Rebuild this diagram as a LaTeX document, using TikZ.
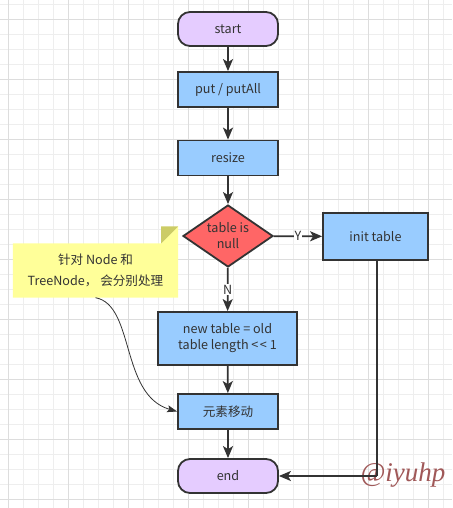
\documentclass[tikz,border=0pt]{standalone}
\usepackage{fontspec}
\setmainfont{Noto Sans CJK SC}
\newfontfamily\wmfont{Liberation Serif}
\usetikzlibrary{shapes.geometric,arrows.meta,backgrounds}
\definecolor{strk}{HTML}{333333}
\definecolor{txt}{HTML}{333333}
\definecolor{bluef}{HTML}{99CCFF}
\definecolor{purf}{HTML}{E5CCFF}
\definecolor{redf}{HTML}{FF6666}
\definecolor{notef}{HTML}{FFFF99}
\definecolor{foldf}{HTML}{CCCC66}
\definecolor{gridminor}{HTML}{EEEEEE}
\definecolor{gridmajor}{HTML}{DDDDDD}
\definecolor{wm}{HTML}{A05858}
\tikzset{
  base/.style={draw=strk, line width=1.8pt, text=txt, font=\fontsize{12.6}{16}\selectfont, align=center, inner sep=0pt},
  procbox/.style={base, rectangle, fill=bluef, minimum width=100pt, minimum height=35pt},
  termbox/.style={base, rectangle, rounded corners=12pt, fill=purf, minimum width=100pt, minimum height=34pt},
  decbox/.style={base, diamond, aspect=1.45, fill=redf, minimum width=90pt, minimum height=62pt},
  flow/.style={draw=strk, line width=1.8pt, -{Stealth[length=12pt,width=10pt,inset=3pt]}},
  lbl/.style={fill=white, text=txt, font=\fontsize{12.6}{14}\selectfont, inner sep=1pt},
}
\begin{document}
\begin{tikzpicture}[x=1pt,y=-1pt]
\useasboundingbox (0,0) rectangle (452,508);
% nodes
\node[termbox] (start) at (228,29) {start};
\node[procbox] (put) at (228,89.5) {put / putAll};
\node[procbox] (resize) at (228,158) {resize};
\node[decbox] (dec) at (228,236) {table is\\null};
\node[procbox, minimum width=105pt, minimum height=47pt] (init) at (375.5,236.5) {init table};
\node[procbox, minimum width=139pt, minimum height=53pt] (newt) at (227.5,338.5) {new table = old\\table length {<}\kern1.5pt{<} 1};
\node[procbox] (move) at (228,411.5) {元素移动};
\node[termbox] (end) at (228,476) {end};
\node[text=txt, font=\fontsize{12.6}{21}\selectfont, align=center, minimum width=165pt, minimum height=54pt, inner sep=0pt] (note) at (95.5,270.5) {\raisebox{-2pt}{}针对 Node 和\\TreeNode， 会分别处理};
\coordinate (corner) at (377,476);
\node[text=wm, font=\wmfont\fontsize{27}{27}\selectfont\itshape, anchor=center] (mark) at (403,475) {@iyuhp};
% background
\begin{pgfonlayer}{background}
  \foreach \x in {8.3,23.3,...,452} {\draw[gridminor, line width=1pt] (\x,0) -- (\x,508);}
  \foreach \y in {4.3,19.3,...,508} {\draw[gridminor, line width=1pt] (0,\y) -- (452,\y);}
  \foreach \x in {8.3,68.3,...,452} {\draw[gridmajor, line width=1pt] (\x,0) -- (\x,508);}
  \foreach \y in {19.3,79.3,...,508} {\draw[gridmajor, line width=1pt] (0,\y) -- (452,\y);}
  \fill[notef] (note.south west) -- (note.north west) -- ([xshift=-17pt]note.north east) -- ([yshift=17pt]note.north east) -- (note.south east) -- cycle;
  \fill[foldf] ([xshift=-17pt]note.north east) -- ([xshift=-17pt,yshift=17pt]note.north east) -- ([yshift=17pt]note.north east) -- cycle;
\end{pgfonlayer}
% edges
\draw[flow] (start) -- (put);
\draw[flow] (put) -- (resize);
\draw[flow] (resize) -- (dec);
\draw[flow] (dec) -- node[lbl] {Y} (init);
\draw[flow] (dec) -- node[lbl] {N} (newt);
\draw[flow] (newt) -- (move);
\draw[flow] (move) -- (end);
\draw[draw=strk, line width=1.8pt] (init.south -| corner) -- (corner);
\draw[flow] (corner) -- (end);
\draw[draw=strk, line width=0.8pt, -{Stealth[length=10pt,width=7pt,inset=2pt]}] (note.south) .. controls (135,305) and (120,395) .. (move.west);
\end{tikzpicture}
\end{document}
